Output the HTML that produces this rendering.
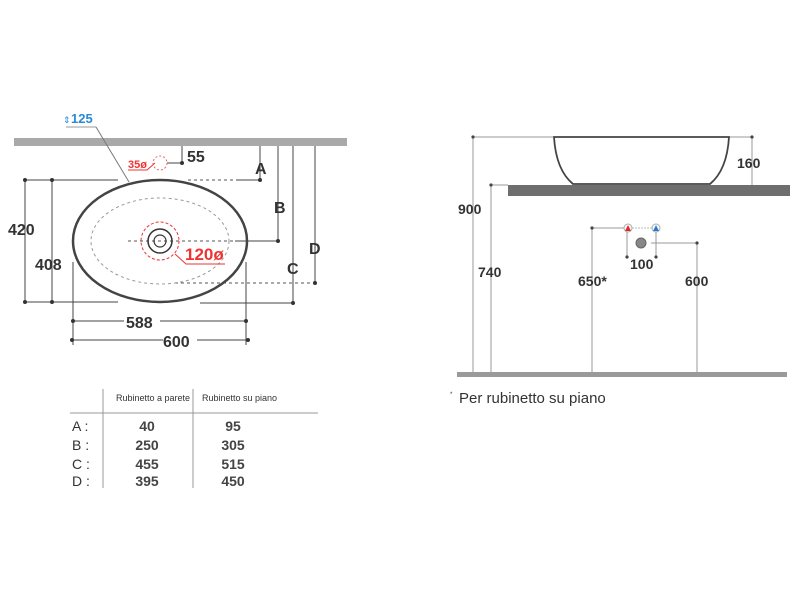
<!DOCTYPE html>
<html><head><meta charset="utf-8"><style>
html,body{margin:0;padding:0;background:#fff;}
svg{display:block;font-family:"Liberation Sans",sans-serif;}
.b{font-weight:bold;fill:#333;}
</style></head><body>
<svg width="800" height="600" viewBox="0 0 800 600" xmlns="http://www.w3.org/2000/svg">
<rect x="14" y="138" width="333" height="8" fill="#a9a9a9"/>
<g stroke="#444" stroke-width="1" fill="none">
<line x1="260" y1="146" x2="260" y2="180"/>
<line x1="278" y1="146" x2="278" y2="241"/>
<line x1="293" y1="146" x2="293" y2="303"/>
<line x1="315" y1="146" x2="315" y2="283"/>
<line x1="182" y1="146" x2="182" y2="163"/>
<line x1="167" y1="163" x2="182" y2="163"/>
<line x1="25" y1="180" x2="118" y2="180"/>
<line x1="25" y1="302" x2="118" y2="302"/>
<line x1="25" y1="180" x2="25" y2="302"/>
<line x1="52" y1="180" x2="52" y2="302"/>
<line x1="73" y1="262" x2="73" y2="345"/>
<line x1="246" y1="262" x2="246" y2="345"/>
<line x1="73" y1="321" x2="124" y2="321"/><line x1="160" y1="321" x2="246" y2="321"/>
<line x1="72" y1="340" x2="163" y2="340"/><line x1="197" y1="340" x2="248" y2="340"/>
<line x1="200" y1="303" x2="293" y2="303"/>
<line x1="235" y1="241" x2="278" y2="241"/>
<line x1="236" y1="180" x2="260" y2="180"/>
<line x1="66" y1="127" x2="96" y2="127" stroke="#999"/>
<line x1="96" y1="127" x2="129" y2="182" stroke="#777"/>
</g>
<g stroke="#555" stroke-width="1" stroke-dasharray="3,3" fill="none">
<line x1="188" y1="180" x2="236" y2="180"/>
<line x1="128" y1="241" x2="235" y2="241"/>
<line x1="175" y1="283" x2="315" y2="283"/>
</g>
<g fill="#333">
<circle cx="260" cy="180" r="2"/><circle cx="278" cy="241" r="2"/><circle cx="293" cy="303" r="2"/><circle cx="315" cy="283" r="2"/>
<circle cx="182" cy="163" r="2"/><circle cx="25" cy="180" r="2"/><circle cx="25" cy="302" r="2"/><circle cx="52" cy="180" r="2"/><circle cx="52" cy="302" r="2"/>
<circle cx="73" cy="321" r="2"/><circle cx="246" cy="321" r="2"/><circle cx="72" cy="340" r="2"/><circle cx="248" cy="340" r="2"/>
</g>
<ellipse cx="160" cy="241" rx="87" ry="61" fill="none" stroke="#444" stroke-width="2.5"/>
<ellipse cx="160" cy="241" rx="69" ry="43" fill="none" stroke="#999" stroke-width="1" stroke-dasharray="3,3"/>
<circle cx="160" cy="241" r="12" fill="none" stroke="#333" stroke-width="1.5"/>
<circle cx="160" cy="241" r="6" fill="none" stroke="#333" stroke-width="1.2"/>
<circle cx="160" cy="241" r="19" fill="none" stroke="#e33" stroke-width="1" stroke-dasharray="3,2"/>
<circle cx="160" cy="163" r="7" fill="none" stroke="#e66" stroke-width="1" stroke-dasharray="2,2"/>
<polyline points="128,170 147,170 155,163" fill="none" stroke="#e33" stroke-width="1"/>
<polyline points="175,254 186,264 225,264" fill="none" stroke="#e33" stroke-width="1"/>
<text x="128" y="168" font-size="11" font-weight="bold" fill="#e33">35ø</text>
<text x="185" y="260" font-size="17" font-weight="bold" fill="#e33">120ø</text>
<text x="71" y="123" font-size="13" font-weight="bold" fill="#2a8ad4">125</text>
<text x="63" y="123" font-size="9" fill="#2a8ad4">⇕</text>
<text class="b" x="187" y="162" font-size="16">55</text>
<text class="b" x="255" y="174" font-size="16">A</text>
<text class="b" x="274" y="213" font-size="16">B</text>
<text class="b" x="287" y="274" font-size="16">C</text>
<text class="b" x="309" y="254" font-size="16">D</text>
<text class="b" x="8" y="235" font-size="16">420</text>
<text class="b" x="35" y="270" font-size="16">408</text>
<text class="b" x="126" y="328" font-size="16">588</text>
<text class="b" x="163" y="347" font-size="16">600</text>
<g stroke="#999" stroke-width="1">
<line x1="103" y1="389" x2="103" y2="488"/>
<line x1="193" y1="389" x2="193" y2="488"/>
<line x1="70" y1="413" x2="318" y2="413"/>
</g>
<g font-size="9" fill="#333"><text x="116" y="401">Rubinetto a parete</text><text x="202" y="401">Rubinetto su piano</text></g>
<g font-size="14" fill="#333">
<text x="72" y="431">A :</text><text x="72" y="450">B :</text><text x="72" y="469">C :</text><text x="72" y="486">D :</text>
</g>
<g font-size="14" font-weight="bold" fill="#444" text-anchor="middle">
<text x="147" y="431">40</text><text x="147" y="450">250</text><text x="147" y="469">455</text><text x="147" y="486">395</text>
<text x="233" y="431">95</text><text x="233" y="450">305</text><text x="233" y="469">515</text><text x="233" y="486">450</text>
</g>
<g stroke="#999" stroke-width="1" fill="none">
<line x1="473" y1="137" x2="553" y2="137"/>
<line x1="729" y1="137" x2="752" y2="137"/>
<line x1="473" y1="137" x2="473" y2="374"/>
<line x1="491" y1="185" x2="491" y2="374"/>
<line x1="491" y1="185" x2="508" y2="185"/>
<line x1="752" y1="137" x2="752" y2="185"/>
<line x1="592" y1="228" x2="592" y2="374"/>
<line x1="592" y1="228" x2="624" y2="228"/>
<line x1="697" y1="243" x2="697" y2="374"/>
<line x1="651" y1="243" x2="697" y2="243"/>
<line x1="627" y1="232" x2="627" y2="257"/>
<line x1="656" y1="232" x2="656" y2="257"/>
</g>
<line x1="632" y1="228" x2="652" y2="228" stroke="#bbb" stroke-dasharray="2,1"/>
<g fill="#444"><circle cx="473" cy="137" r="1.6"/><circle cx="752" cy="137" r="1.6"/><circle cx="491" cy="185" r="1.6"/><circle cx="592" cy="228" r="1.6"/><circle cx="697" cy="243" r="1.6"/><circle cx="627" cy="257" r="1.6"/><circle cx="656" cy="257" r="1.6"/></g>
<path d="M554,137 L729,137 Q727,170 710,184 L573,184 Q556,170 554,137 Z" fill="#fff" stroke="#444" stroke-width="1.8"/>
<rect x="508" y="185" width="282" height="11" fill="#6e6e6e"/>
<rect x="457" y="372" width="330" height="5" fill="#9a9a9a"/>
<circle cx="628" cy="228" r="4" fill="#fff" stroke="#aaa"/><path d="M625,231 L628,225 L631,231Z" fill="#e22"/>
<circle cx="656" cy="228" r="4" fill="#fff" stroke="#aaa"/><path d="M653,231 L656,225 L659,231Z" fill="#2a7ad4"/>
<circle cx="641" cy="243" r="5" fill="#888" stroke="#666"/>
<text class="b" x="737" y="168" font-size="14">160</text>
<text class="b" x="458" y="214" font-size="14">900</text>
<text class="b" x="478" y="277" font-size="14">740</text>
<text class="b" x="578" y="286" font-size="14">650*</text>
<text class="b" x="685" y="286" font-size="14">600</text>
<text class="b" x="630" y="269" font-size="14">100</text>
<text x="450" y="396" font-size="6" fill="#333">*</text>
<text x="459" y="403" font-size="15" fill="#333">Per rubinetto su piano</text>
</svg>
</body></html>
